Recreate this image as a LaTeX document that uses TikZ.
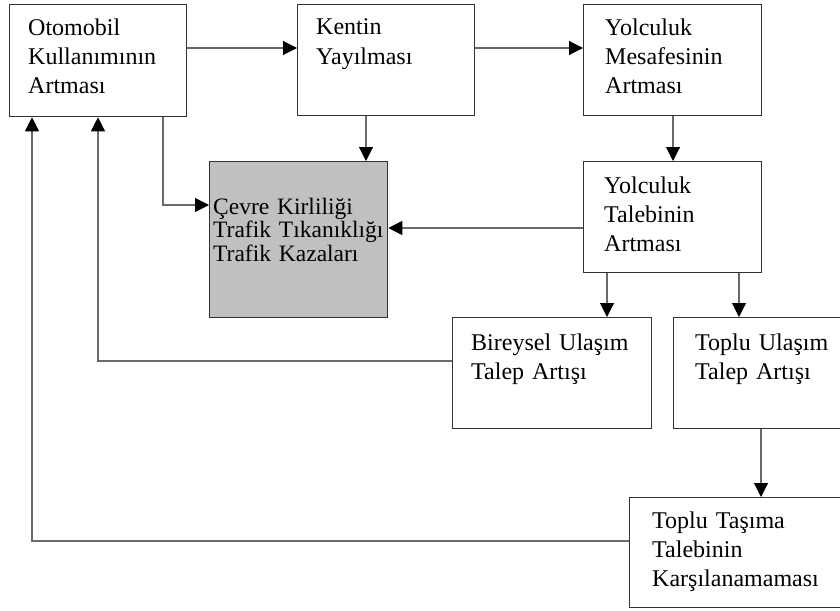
\documentclass[tikz,border=0pt]{standalone}
\usepackage{fontspec}
\setmainfont{Liberation Serif}
\usetikzlibrary{arrows.meta}
\definecolor{boxline}{HTML}{333333}
\definecolor{conn}{HTML}{6A6A6A}
\definecolor{grayfill}{HTML}{C0C0C0}
\tikzset{
  box/.style={draw=boxline, line width=1.3pt, rectangle, anchor=north west, inner sep=0pt, fill=white},
  txt/.style={anchor=base west, inner sep=0pt, text width=#1, align=left, font=\fontsize{24}{29}\selectfont},
  txt/.default=175pt,
  gtxt/.style={anchor=base west, inner sep=0pt, text width=178pt, align=left, font=\fontsize{23.5}{23.5}\selectfont},
  conn/.style={draw=conn, line width=1.1pt, -{Triangle[length=14pt,width=14pt,color=black]}}
}
\begin{document}
\begin{tikzpicture}[x=1pt,y=-1pt]
\useasboundingbox (0,0) rectangle (840,610);
\clip (0,0) rectangle (840,610);
\fill[white] (0,0) rectangle (840,610);

% boxes
\node[box, minimum width=177pt, minimum height=112pt] (b1) at (9,4) {};
\node[box, minimum width=177pt, minimum height=111pt] (b2) at (297,4) {};
\node[box, minimum width=178pt, minimum height=111pt] (b3) at (583,4) {};
\node[box, fill=grayfill, minimum width=178pt, minimum height=156pt] (g) at (209,161) {};
\node[box, minimum width=178pt, minimum height=111pt] (b5) at (583,161) {};
\node[box, minimum width=199pt, minimum height=111pt] (b6) at (452,317) {};
\node[box, minimum width=180pt, minimum height=111pt] (b7) at (673,317) {};
\node[box, minimum width=225pt, minimum height=110pt] (b8) at (629,497) {};

% texts
\node[txt] (t1) at (28,36) {Otomobil\\Kullanımının\\Artması};
\node[txt] (t2) at (316,35) {Kentin\\Yayılması};
\node[txt] (t3) at (605,36) {Yolculuk\\Mesafesinin\\Artması};
\node[gtxt] (tg) at (213,214) {Çevre Kirliliği\\Trafik Tıkanıklığı\\Trafik Kazaları};
\node[txt] (t5) at (604,193) {Yolculuk\\Talebinin\\Artması};
\node[txt=190pt] (t6) at (471,350) {Bireysel Ulaşım\\Talep Artışı};
\node[txt] (t7) at (695,350) {Toplu Ulaşım\\Talep Artışı};
\node[txt=200pt] (t8) at (652,528) {Toplu Taşıma\\Talebinin\\Karşılanamaması};

% connectors
\draw[conn] (b1.east |- 0,48) -- (b2.west |- 0,48);
\draw[conn] (b2.east |- 0,48) -- (b3.west |- 0,48);
\draw[conn] (b2.south -| 366,0) -- (g.north -| 366,0);
\draw[conn] (b3.south -| 673,0) -- (b5.north -| 673,0);
\draw[conn] (b1.south -| 163,0) |- (g.west |- 0,205);
\draw[conn] (b5.west |- 0,228) -- (g.east |- 0,228);
\draw[conn] (b5.south -| 607,0) -- (b6.north -| 607,0);
\draw[conn] (b5.south -| 739,0) -- (b7.north -| 739,0);
\draw[conn] (b6.west |- 0,361) -| (b1.south -| 98,0);
\draw[conn] (b7.south -| 761,0) -- (b8.north -| 761,0);
\draw[conn] (b8.west |- 0,541) -| (b1.south -| 32,0);
\end{tikzpicture}
\end{document}
